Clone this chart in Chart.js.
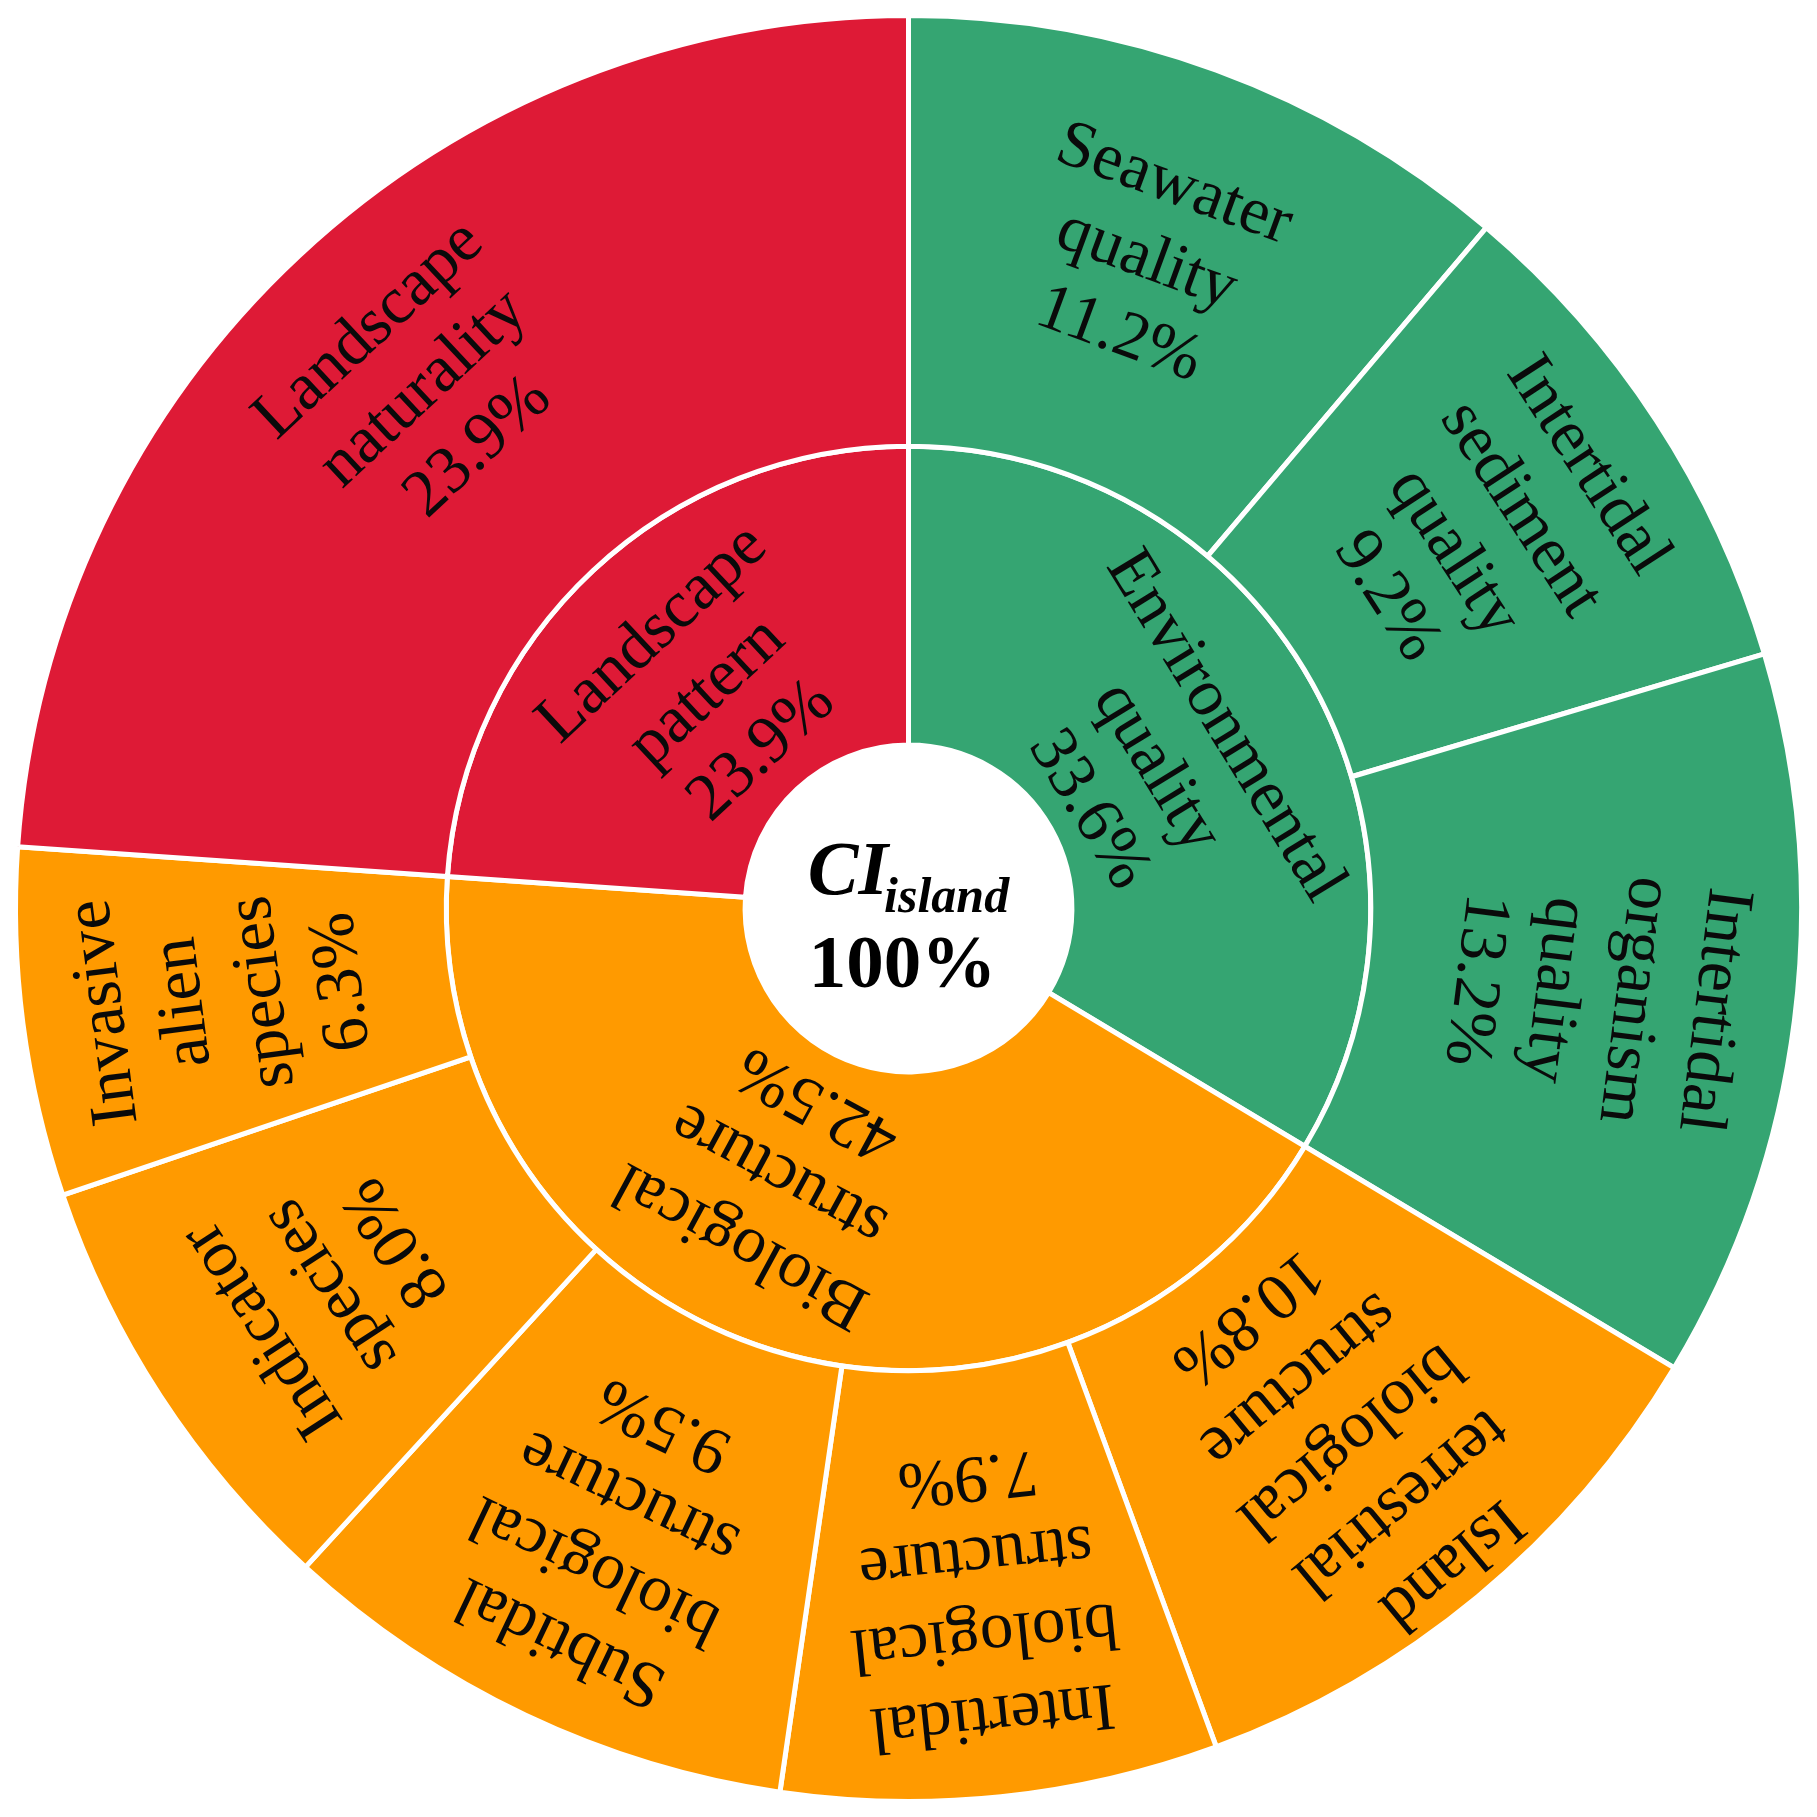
<!DOCTYPE html>
<html>
<head>
<meta charset="utf-8">
<script src="https://cdn.jsdelivr.net/npm/chart.js@4.4.1/dist/chart.umd.min.js"></script>
<style>
  html, body { margin: 0; padding: 0; background: #ffffff; }
  #wrap { width: 1817px; height: 1817px; }
</style>
</head>
<body>
<div id="wrap"><canvas id="c" width="1817" height="1817"></canvas></div>
<script>
// ---- data ----
const outerLabels = [
  ['Seawater', 'quality'],
  ['Intertidal', 'sediment', 'quality'],
  ['Intertidal', 'organism', 'quality'],
  ['Island', 'terrestrial', 'biological', 'structure'],
  ['Intertidal', 'biological', 'structure'],
  ['Subtidal', 'biological', 'structure'],
  ['Indicator', 'species'],
  ['Invasive', 'alien', 'species'],
  ['Landscape', 'naturality']
];
const outerValues = [11.2, 9.2, 13.2, 10.8, 7.9, 9.5, 8.0, 6.3, 23.9];
const outerGroup = [0, 0, 0, 1, 1, 1, 1, 1, 2];

const innerLabels = [
  ['Environmental', 'quality'],
  ['Biological', 'structure'],
  ['Landscape', 'pattern']
];
const innerValues = [33.6, 42.5, 23.9];

const centerTitle = 'CI';
const centerSub = 'island';
const centerValue = '100%';

// ---- styles ----
const groupColors = ['#35A572', '#FF9A00', '#DE1A36'];
const FONT = "'Liberation Serif', 'Times New Roman', serif";
// per-label placement tweaks (degrees / pixels): [angleShift, rotationShift, radiusShift]
const outerTweaks = { 8: [0, 0, 20] };
const innerTweaks = { 0: [0, -2, -10], 1: [8.5, 11, 0] };

const labelPlugin = {
  id: 'sunLabels',
  afterDatasetsDraw(chart) {
    const ctx = chart.ctx;
    const deg = Math.PI / 180;
    const drawRing = (dsIndex, labels, values, radiusFrac, fontPx, lineH, tweaks) => {
      const meta = chart.getDatasetMeta(dsIndex);
      meta.data.forEach((arc, i) => {
        const p = arc.getProps(['x', 'y', 'startAngle', 'endAngle', 'innerRadius', 'outerRadius'], true);
        const tw = tweaks[i] || [0, 0, 0];
        const mid = (p.startAngle + p.endAngle) / 2;
        const posA = mid + tw[0] * deg;
        const rotA = mid + tw[1] * deg;
        const r = p.innerRadius + (p.outerRadius - p.innerRadius) * radiusFrac + tw[2];
        const cx = p.x + r * Math.cos(posA);
        const cy = p.y + r * Math.sin(posA);
        const lines = labels[i].concat([values[i].toFixed(1) + '%']);
        ctx.save();
        ctx.translate(cx, cy);
        ctx.rotate(rotA + Math.PI / 2);
        ctx.fillStyle = '#0a0a0a';
        ctx.font = fontPx + 'px ' + FONT;
        ctx.textAlign = 'center';
        ctx.textBaseline = 'middle';
        const n = lines.length;
        lines.forEach((t, k) => {
          ctx.fillText(t, 0, (k - (n - 1) / 2) * lineH);
        });
        ctx.restore();
      });
    };
    drawRing(0, outerLabels, outerValues, 0.53, 67, 80, outerTweaks);
    drawRing(1, innerLabels, innerValues, 0.44, 67, 80, innerTweaks);

    // center text
    const a = chart.getDatasetMeta(1).data[0];
    const cx = a.x, cy = a.y;
    ctx.save();
    ctx.fillStyle = '#000';
    ctx.textBaseline = 'alphabetic';
    ctx.textAlign = 'left';
    ctx.font = 'italic bold 76px ' + FONT;
    const w1 = ctx.measureText(centerTitle).width;
    ctx.font = 'italic bold 50px ' + FONT;
    const w2 = ctx.measureText(centerSub).width;
    const x0 = cx - (w1 + w2 - 4) / 2;
    ctx.font = 'italic bold 76px ' + FONT;
    ctx.fillText(centerTitle, x0, cy - 15);
    ctx.font = 'italic bold 50px ' + FONT;
    ctx.fillText(centerSub, x0 + w1 - 4, cy + 3);
    ctx.font = 'bold 75px ' + FONT;
    ctx.textAlign = 'center';
    ctx.fillText(centerValue, cx - 6, cy + 78);
    ctx.restore();
  }
};

new Chart(document.getElementById('c'), {
  type: 'doughnut',
  data: {
    labels: outerLabels.map(l => l.join(' ')),
    datasets: [
      {
        data: outerValues,
        backgroundColor: outerGroup.map(g => groupColors[g]),
        borderColor: '#ffffff',
        borderWidth: 5,
        hoverOffset: 0,
        offset: 0,
        weight: 431
      },
      {
        data: innerValues,
        backgroundColor: groupColors,
        borderColor: '#ffffff',
        borderWidth: 5,
        hoverOffset: 0,
        offset: 0,
        weight: 299
      }
    ]
  },
  options: {
    responsive: false,
    animation: false,
    radius: 893,
    cutout: '18.3%',
    rotation: 0,
    layout: { padding: 0 },
    plugins: {
      legend: { display: false },
      tooltip: { enabled: false }
    },
    events: []
  },
  plugins: [labelPlugin]
});
</script>
</body>
</html>
